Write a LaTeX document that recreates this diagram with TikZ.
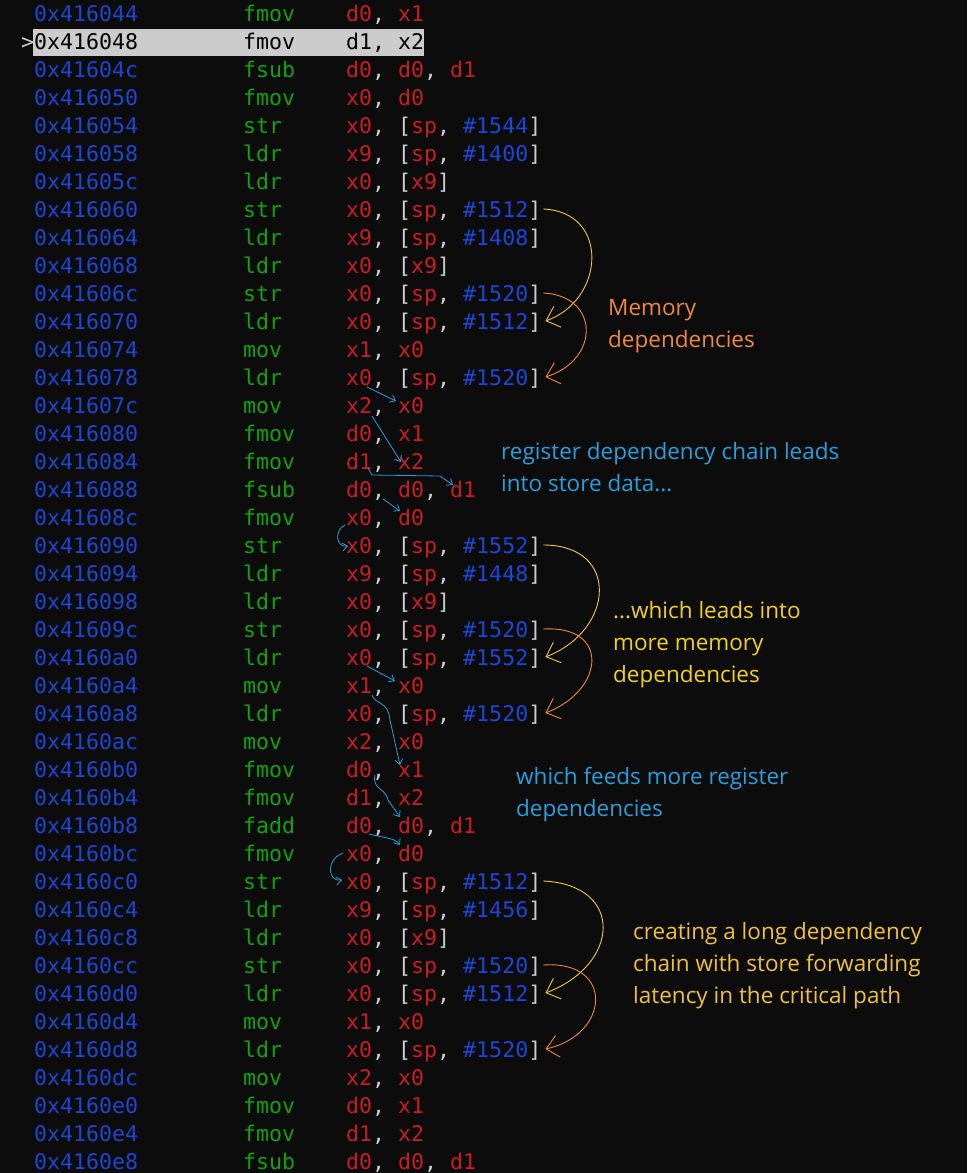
\documentclass[tikz,border=0pt]{standalone}
\usepackage{fontspec}
\usetikzlibrary{arrows.meta,calc}
\newfontfamily\codefont{DejaVu Sans Mono}
\newfontfamily\notefont{Open Sans}
\definecolor{bg}{HTML}{0C0C0C}
\definecolor{addrc}{HTML}{1E46D2}
\definecolor{mnc}{HTML}{13A10E}
\definecolor{regc}{HTML}{C81E24}
\definecolor{numc}{HTML}{1E46D6}
\definecolor{punc}{HTML}{CCCCCC}
\definecolor{hl}{HTML}{CCCCCC}
\definecolor{noteor}{HTML}{F0883E}
\definecolor{noteblue}{HTML}{2A9FDC}
\definecolor{noteyel}{HTML}{F2D21F}
\definecolor{notegold}{HTML}{F0C23A}
\definecolor{arryel}{HTML}{F5C842}
\definecolor{arror}{HTML}{F08A3A}
\definecolor{arrblue}{HTML}{2A9FDC}
\newcommand\Rg[1]{\textcolor{regc}{#1}}
\newcommand\Nm[1]{\textcolor{numc}{#1}}
\newcommand\ins[4]{%
  \node[addrtxt] (a#1) at (34,{21+28*#1}) {0x#2};
  \node[mntxt] (m#1) at (243,{21+28*#1}) {#3};
  \node[optxt] (o#1) at (346,{21+28*#1}) {#4};}
\newcommand\mem[2]{\Rg{#1}, [\Rg{sp}, \Nm{\##2}]}
\begin{document}
\begin{tikzpicture}[x=1pt,y=-1pt,
  code/.style={anchor=base west,inner sep=0pt,font=\codefont\fontsize{21.6}{26}\selectfont},
  addrtxt/.style={code,text=addrc},
  mntxt/.style={code,text=mnc},
  optxt/.style={code,text=punc},
  note/.style={anchor=base west,inner sep=0pt,align=left,font=\notefont\fontsize{22.5}{32}\selectfont},
  memarr/.style={line width=0.9pt,-{Straight Barb[length=12pt,width=22pt]}},
  regarr/.style={arrblue,line width=0.8pt,-{Straight Barb[length=5pt,width=8pt]}}]
\fill[bg] (0,0) rectangle (967,1173);
\useasboundingbox (0,0) rectangle (967,1173);
\fill[hl] (33,29) rectangle (424,56);
\node[code,text=punc] (cur) at (21,49) {>};
\ins{0}{416044}{fmov}{\Rg{d0}, \Rg{x1}}
\node[code,text=black] (a1) at (34,49) {0x416048};
\node[code,text=black] (m1) at (243,49) {fmov};
\node[code,text=black] (o1) at (346,49) {d1, x2};
\ins{2}{41604c}{fsub}{\Rg{d0}, \Rg{d0}, \Rg{d1}}
\ins{3}{416050}{fmov}{\Rg{x0}, \Rg{d0}}
\ins{4}{416054}{str}{\mem{x0}{1544}}
\ins{5}{416058}{ldr}{\mem{x9}{1400}}
\ins{6}{41605c}{ldr}{\Rg{x0}, [\Rg{x9}]}
\ins{7}{416060}{str}{\mem{x0}{1512}}
\ins{8}{416064}{ldr}{\mem{x9}{1408}}
\ins{9}{416068}{ldr}{\Rg{x0}, [\Rg{x9}]}
\ins{10}{41606c}{str}{\mem{x0}{1520}}
\ins{11}{416070}{ldr}{\mem{x0}{1512}}
\ins{12}{416074}{mov}{\Rg{x1}, \Rg{x0}}
\ins{13}{416078}{ldr}{\mem{x0}{1520}}
\ins{14}{41607c}{mov}{\Rg{x2}, \Rg{x0}}
\ins{15}{416080}{fmov}{\Rg{d0}, \Rg{x1}}
\ins{16}{416084}{fmov}{\Rg{d1}, \Rg{x2}}
\ins{17}{416088}{fsub}{\Rg{d0}, \Rg{d0}, \Rg{d1}}
\ins{18}{41608c}{fmov}{\Rg{x0}, \Rg{d0}}
\ins{19}{416090}{str}{\mem{x0}{1552}}
\ins{20}{416094}{ldr}{\mem{x9}{1448}}
\ins{21}{416098}{ldr}{\Rg{x0}, [\Rg{x9}]}
\ins{22}{41609c}{str}{\mem{x0}{1520}}
\ins{23}{4160a0}{ldr}{\mem{x0}{1552}}
\ins{24}{4160a4}{mov}{\Rg{x1}, \Rg{x0}}
\ins{25}{4160a8}{ldr}{\mem{x0}{1520}}
\ins{26}{4160ac}{mov}{\Rg{x2}, \Rg{x0}}
\ins{27}{4160b0}{fmov}{\Rg{d0}, \Rg{x1}}
\ins{28}{4160b4}{fmov}{\Rg{d1}, \Rg{x2}}
\ins{29}{4160b8}{fadd}{\Rg{d0}, \Rg{d0}, \Rg{d1}}
\ins{30}{4160bc}{fmov}{\Rg{x0}, \Rg{d0}}
\ins{31}{4160c0}{str}{\mem{x0}{1512}}
\ins{32}{4160c4}{ldr}{\mem{x9}{1456}}
\ins{33}{4160c8}{ldr}{\Rg{x0}, [\Rg{x9}]}
\ins{34}{4160cc}{str}{\mem{x0}{1520}}
\ins{35}{4160d0}{ldr}{\mem{x0}{1512}}
\ins{36}{4160d4}{mov}{\Rg{x1}, \Rg{x0}}
\ins{37}{4160d8}{ldr}{\mem{x0}{1520}}
\ins{38}{4160dc}{mov}{\Rg{x2}, \Rg{x0}}
\ins{39}{4160e0}{fmov}{\Rg{d0}, \Rg{x1}}
\ins{40}{4160e4}{fmov}{\Rg{d1}, \Rg{x2}}
\ins{41}{4160e8}{fsub}{\Rg{d0}, \Rg{d0}, \Rg{d1}}
% notes (base = baseline of last line)
\node[note,text=noteor] (n1) at (608,347) {Memory\\dependencies};
\node[note,text=noteblue] (n2) at (501,491) {register dependency chain leads\\into store data...};
\node[note,text=noteyel] (n3) at (613,682) {...which leads into\\more memory\\dependencies};
\node[note,text=noteblue] (n4) at (516,816) {which feeds more register\\dependencies};
\node[note,text=notegold] (n5) at (633,1003) {creating a long dependency\\chain with store forwarding\\latency in the critical path};
% memory arrows
\draw[memarr,arryel] ($(o7.base east)+(2,-8)$) .. controls (610,212) and (605,300) .. ($(o11.base east)+(4,-8)$);
\draw[memarr,arror] ($(o10.base east)+(2,-8)$) .. controls (600,296) and (600,360) .. ($(o13.base east)+(4,-8)$);
\draw[memarr,arryel] ($(o19.base east)+(2,-8)$) .. controls (620,545) and (615,630) .. ($(o23.base east)+(4,-8)$);
\draw[memarr,arror] ($(o22.base east)+(2,-8)$) .. controls (610,625) and (605,690) .. ($(o25.base east)+(4,-8)$);
\draw[memarr,arryel] ($(o31.base east)+(2,-8)$) .. controls (625,885) and (620,965) .. ($(o35.base east)+(4,-8)$);
\draw[memarr,arror] ($(o34.base east)+(2,-8)$) .. controls (615,960) and (610,1035) .. ($(o37.base east)+(4,-8)$);
% register arrows
\draw[regarr] (367,387) -- (396,401);
\draw[regarr] (372,416) -- (401,462);
\draw[regarr] (368,468) -- (372,475) -- (440,476) -- (453,485);
\draw[regarr] (383,499) -- (400,511);
\draw[regarr] (345,525) .. controls (334,530) and (336,548) .. (348,546);
\draw[regarr] (367,666) -- (395,681);
\draw[regarr] (372,695) .. controls (375,705) and (388,700) .. (390,720) -- (400,765);
\draw[regarr] (375,775) .. controls (372,790) and (386,788) .. (388,800) -- (400,817);
\draw[regarr] (369,834) .. controls (385,838) and (395,838) .. (400,845);
\draw[regarr] (343,853) .. controls (325,860) and (328,882) .. (342,880);
\end{tikzpicture}
\end{document}
